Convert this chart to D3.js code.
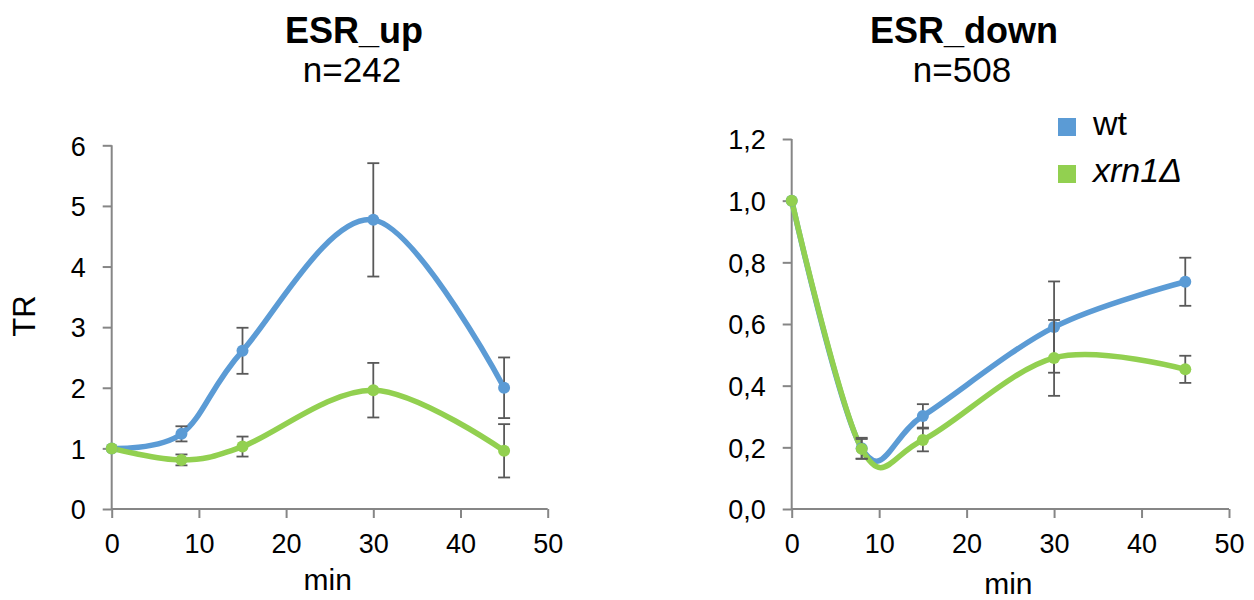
<!DOCTYPE html>
<html>
<head>
<meta charset="utf-8">
<script src="https://cdn.jsdelivr.net/npm/d3@7"></script>
<style>
  body { margin: 0; background: #fff; }
  svg text { font-family: Arial, "Liberation Sans", sans-serif; fill: #000; }
</style>
</head>
<body>
<div id="chart"></div>
<script>
// time points (min)
const times = [0, 8, 15, 30, 45];

// ESR_up
const upWt = [1.0, 1.24, 2.61, 4.77, 2.0];
const upWtErr = [0, 0.125, 0.38, 0.935, 0.5];
const upXrn = [1.0, 0.81, 1.03, 1.96, 0.96];
const upXrnErr = [0, 0.09, 0.165, 0.45, 0.44];

// ESR_down
const downWt = [1.0, 0.197, 0.302, 0.59, 0.737];
const downWtErr = [0, 0.034, 0.038, 0.148, 0.078];
const downXrn = [1.0, 0.195, 0.224, 0.49, 0.453];
const downXrnErr = [0, 0.032, 0.037, 0.123, 0.044];

const xTicks = [0, 10, 20, 30, 40, 50];
const upTicks = [0, 1, 2, 3, 4, 5, 6];
const downTicks = [0, 0.2, 0.4, 0.6, 0.8, 1.0, 1.2];

const seriesNames = ["wt", "xrn1\u0394"];
const colors = ["#5b9bd5", "#92d050"];

const width = 1254, height = 600;
const axisColor = "#868686", errColor = "#595959";

const svg = d3.select("#chart").append("svg")
  .attr("width", width)
  .attr("height", height);

function panel(opt) {
  const x = d3.scaleLinear().domain([0, 50]).range(opt.xr);
  const y = d3.scaleLinear().domain([opt.yTicks[0], opt.yTicks[opt.yTicks.length - 1]]).range(opt.yr);
  const g = svg.append("g");

  // titles
  g.append("text")
    .attr("x", opt.titleX).attr("y", 43)
    .attr("text-anchor", "middle")
    .style("font-size", "36px").style("font-weight", "bold")
    .text(opt.title);
  g.append("text")
    .attr("x", opt.titleX - 2).attr("y", 82)
    .attr("text-anchor", "middle")
    .style("font-size", "35px")
    .text(opt.sub);

  // axes
  const xAxis = d3.axisBottom(x).tickValues(xTicks).tickSize(9).tickPadding(9);
  const gx = g.append("g")
    .attr("transform", `translate(0,${y(0)})`)
    .call(xAxis);
  const yAxis = d3.axisLeft(y).tickValues(opt.yTicks).tickSize(9).tickPadding(17)
    .tickFormat(opt.fmt);
  const gy = g.append("g")
    .attr("transform", `translate(${x(0)},0)`)
    .call(yAxis);
  [gx, gy].forEach(a => {
    a.select(".domain").attr("stroke", axisColor).attr("stroke-width", 2)
      .attr("d", a === gx ? `M${x(0)},0H${x(50)}` : `M0,${y.range()[0]}V${y.range()[1]}`);
    a.selectAll(".tick line").attr("stroke", axisColor).attr("stroke-width", 2);
    a.selectAll(".tick text").style("font-size", "27px").attr("fill", "#000")
      .attr("font-family", null);
  });
  gx.selectAll(".tick text").attr("dy", "0.95em");
  gy.selectAll(".tick text").attr("dy", "0.36em");

  g.append("text")
    .attr("x", (x(0) + x(50)) / 2 - 2).attr("y", opt.minY)
    .attr("text-anchor", "middle")
    .style("font-size", "30px")
    .text("min");

  const line = d3.line()
    .x((d, i) => x(times[i]))
    .y(d => y(d))
    .curve(d3.curveCardinal.tension(0));

  opt.series.forEach((s, k) => {
    g.append("path")
      .attr("d", line(s.vals))
      .attr("fill", "none")
      .attr("stroke", colors[k])
      .attr("stroke-width", 5.5)
      .attr("stroke-linecap", "round");
  });

  opt.series.forEach((s, k) => {
    const eb = g.append("g").attr("stroke", errColor).attr("stroke-width", 1.8);
    s.vals.forEach((v, i) => {
      const e = s.err[i];
      if (!e) return;
      const cx = x(times[i]);
      eb.append("line").attr("x1", cx).attr("x2", cx).attr("y1", y(v - e)).attr("y2", y(v + e));
      eb.append("line").attr("x1", cx - 6).attr("x2", cx + 6).attr("y1", y(v - e)).attr("y2", y(v - e));
      eb.append("line").attr("x1", cx - 6).attr("x2", cx + 6).attr("y1", y(v + e)).attr("y2", y(v + e));
    });
    g.selectAll(null)
      .data(s.vals)
      .enter()
      .append("circle")
      .attr("cx", (d, i) => x(times[i]))
      .attr("cy", d => y(d))
      .attr("r", 6)
      .attr("fill", colors[k]);
  });
  return g;
}

panel({
  title: "ESR_up", sub: "n=242", titleX: 354,
  xr: [111.7, 547.7], yr: [509, 145.3], yTicks: upTicks,
  fmt: d3.format("d"), minY: 590,
  series: [{ vals: upWt, err: upWtErr }, { vals: upXrn, err: upXrnErr }]
});

panel({
  title: "ESR_down", sub: "n=508", titleX: 964,
  xr: [791.7, 1229], yr: [509, 139], yTicks: downTicks,
  fmt: d => d3.format(".1f")(d).replace(".", ","), minY: 594,
  series: [{ vals: downWt, err: downWtErr }, { vals: downXrn, err: downXrnErr }]
});

// y axis title
svg.append("text")
  .attr("transform", "translate(35,316) rotate(-90)")
  .attr("text-anchor", "middle")
  .style("font-size", "31px")
  .text("TR");

// legend
const legend = svg.append("g");
seriesNames.forEach((n, i) => {
  const ly = 118 + i * 47;
  legend.append("rect")
    .attr("x", 1058).attr("y", ly)
    .attr("width", 18).attr("height", 18)
    .attr("fill", colors[i]);
  legend.append("text")
    .attr("x", 1093).attr("y", ly + 17)
    .style("font-size", "34px")
    .style("font-style", i === 1 ? "italic" : "normal")
    .text(n);
});
</script>
</body>
</html>
